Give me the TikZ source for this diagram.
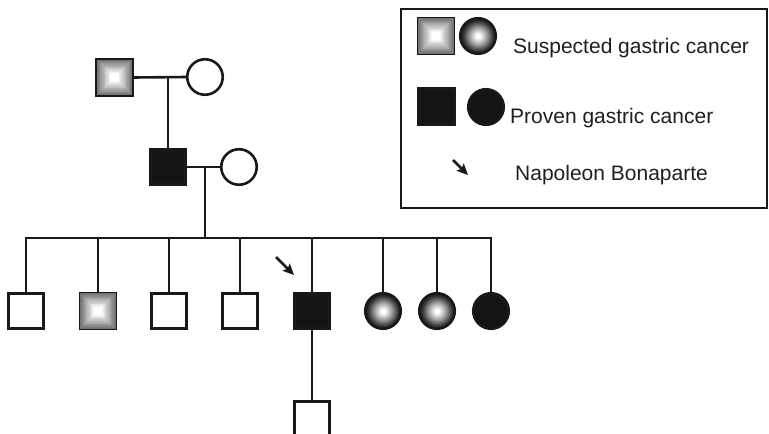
\documentclass[tikz,border=0pt]{standalone}
\usepackage{fontspec}
\setmainfont{Liberation Sans}
\usetikzlibrary{arrows.meta}
\pgfdeclareradialshading{ball}{\pgfpoint{0bp}{0bp}}{color(0bp)=(white); color(3bp)=(white); color(13bp)=(black!42); color(20bp)=(black!75); color(25bp)=(black!92); color(50bp)=(black!92)}
\tikzset{
  lw/.style={line width=2.6pt, draw=black!90},
  sq/.style={rectangle, minimum size=35.5pt, inner sep=0pt, line width=2.6pt, draw=black!90},
  unaff/.style={sq, fill=white},
  proven/.style={sq, fill=black!92},
  susp/.style={sq, line width=1.4pt, minimum size=37pt,
    path picture={\foreach \k in {0,...,20}{\pgfmathtruncatemacro\w{min(100,42+58*\k/17)}\fill[white!\w!black] ([shift={(\k*0.85pt,\k*0.85pt)}]path picture bounding box.south west) rectangle ([shift={(-\k*0.85pt,-\k*0.85pt)}]path picture bounding box.north east);}}},
  circ/.style={circle, minimum size=35.5pt, inner sep=0pt, line width=2.6pt, draw=black!90},
  cunaff/.style={circ, fill=white},
  cproven/.style={circ, fill=black!92},
  csusp/.style={circ, shading=ball},
  ptr/.style={line width=2.6pt, draw=black!90, -{Stealth[length=11pt,width=10pt,inset=2pt]}},
  legtext/.style={anchor=base west, inner sep=0pt, text=black!88, font=\fontsize{21}{25}\selectfont},
}
\begin{document}
\begin{tikzpicture}[x=1pt,y=-1pt]
\useasboundingbox (0,0) rectangle (769,434);
% generation 1
\node[susp] (g1m) at (114.5,77.5) {};
\node[cunaff] (g1f) at (205,77) {};
\coordinate (m1) at (168,77);
% generation 2
\node[proven] (g2m) at (168,167) {};
\node[cunaff] (g2f) at (239,167) {};
\coordinate (m2) at (205,167);
\coordinate (sib) at (205,238);
\coordinate (sibR) at (491,238);
% generation 3
\node[unaff] (c1) at (26,311) {};
\node[susp] (c2) at (98,311) {};
\node[unaff] (c3) at (169,311) {};
\node[unaff] (c4) at (240,311) {};
\node[proven] (c5) at (312,311) {};
\node[csusp] (c6) at (383,311) {};
\node[csusp] (c7) at (437,311) {};
\node[cproven] (c8) at (491,311) {};
% generation 4
\node[unaff] (d1) at (312,419) {};
% connectors
\draw[lw] (g1m.east) -- (g1f.west);
\draw[lw] (m1) -- (g2m.north);
\draw[lw] (g2m.east) -- (g2f.west);
\draw[lw] (m2) -- (sib);
\draw[lw] (c1.north) |- (sibR) -- (c8.north);
\foreach \c in {c2,c3,c4,c5,c6,c7}{\draw[lw] (\c.north) -- (\c.north |- sibR);}
\draw[lw] (c5.south) -- (d1.north);
% proband arrow
\coordinate (pa) at (276,257);
\coordinate (pb) at (294,275);
\draw[ptr] (pa) -- (pb);
% legend
\node[draw=black!90, line width=2.2pt, minimum width=366pt, minimum height=199pt, inner sep=0pt, anchor=north west] (legend) at (400,8) {};
\node[susp] (ls1) at (436,36) {};
\node[csusp] (lc1) at (478,36) {};
\node[proven] (ls2) at (436.5,106.5) {};
\node[cproven] (lc2) at (486,107) {};
\node[legtext] (t1) at (513,53) {Suspected gastric cancer};
\node[legtext] (t2) at (510,123) {Proven gastric cancer};
\node[legtext] (t3) at (515,180) {Napoleon Bonaparte};
\coordinate (la) at (453,160);
\coordinate (lb) at (468,175);
\draw[ptr] (la) -- (lb);
\end{tikzpicture}
\end{document}
